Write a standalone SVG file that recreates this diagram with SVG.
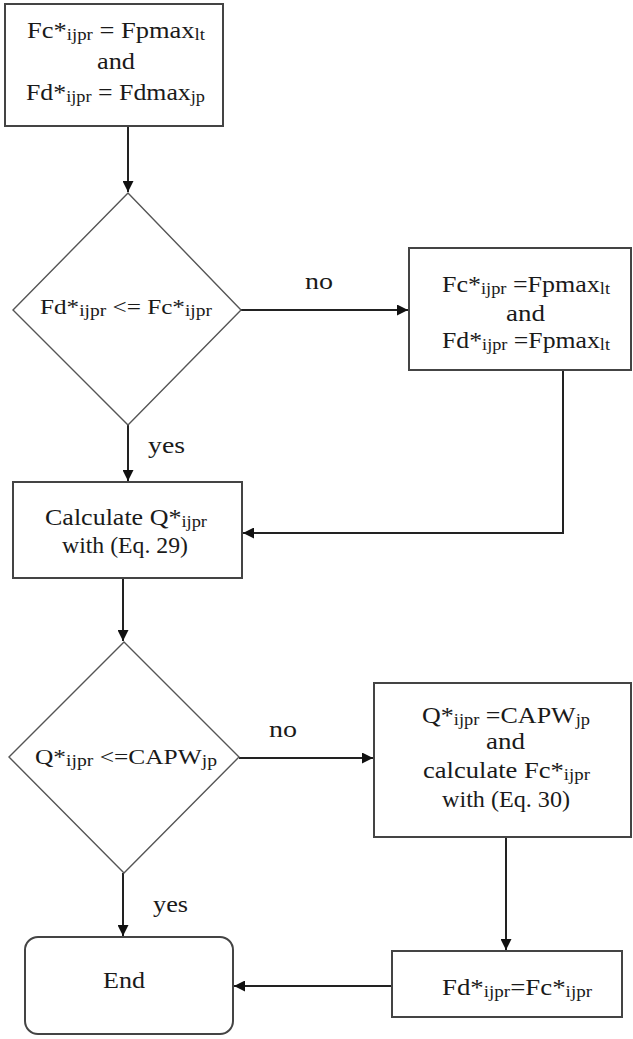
<svg xmlns="http://www.w3.org/2000/svg" width="633" height="1039" viewBox="0 0 633 1039">
<style>
text{font-family:'Liberation Serif','Times New Roman','DejaVu Serif',serif;font-size:24px;fill:#1a1a1a}
.d{font-size:22px}
.sub{font-size:17px}
.box{fill:#fff;stroke:#444;stroke-width:2}
.dia{fill:#fff;stroke:#555;stroke-width:1.4}
.con{fill:none;stroke:#222;stroke-width:2}
</style>
<defs>
<marker id="arr" viewBox="0 0 10 10" refX="10" refY="5" markerWidth="5.5" markerHeight="5.5" orient="auto" markerUnits="strokeWidth">
<path d="M0,0 L10,5 L0,10 z" fill="#111"/>
</marker>
</defs>
<rect width="633" height="1039" fill="#fff"/>
<g id="connectors">
<path class="con" d="M128,126 V192" marker-end="url(#arr)"/>
<path class="con" d="M241,310 H408" marker-end="url(#arr)"/>
<path class="con" d="M128,425 V481" marker-end="url(#arr)"/>
<path class="con" d="M563,370 V533 H243" marker-end="url(#arr)"/>
<path class="con" d="M123,578 V641" marker-end="url(#arr)"/>
<path class="con" d="M239,758 H373" marker-end="url(#arr)"/>
<path class="con" d="M123,873 V936" marker-end="url(#arr)"/>
<path class="con" d="M506,837 V950" marker-end="url(#arr)"/>
<path class="con" d="M392,986 H234" marker-end="url(#arr)"/>
<text x="305" y="289" textLength="28" lengthAdjust="spacingAndGlyphs">no</text>
<text x="148" y="453" textLength="37" lengthAdjust="spacingAndGlyphs">yes</text>
<text x="269" y="737" textLength="28" lengthAdjust="spacingAndGlyphs">no</text>
<text x="153" y="912" textLength="35" lengthAdjust="spacingAndGlyphs">yes</text>
</g>
<g id="start">
<rect class="box" x="5" y="4" width="218" height="122"/>
<text x="27" y="38" textLength="178" lengthAdjust="spacingAndGlyphs">Fc*<tspan class="sub" dy="2">ijpr</tspan><tspan dy="-2"> = Fpmax</tspan><tspan class="sub" dy="2">lt</tspan></text>
<text x="97" y="69" textLength="38" lengthAdjust="spacingAndGlyphs">and</text>
<text x="26" y="100" textLength="179" lengthAdjust="spacingAndGlyphs">Fd*<tspan class="sub" dy="2">ijpr</tspan><tspan dy="-2"> = Fdmax</tspan><tspan class="sub" dy="2">jp</tspan></text>
</g>
<g id="decision1">
<polygon class="dia" points="128,193 241,310 128,425 13,310"/>
<text class="d" x="40" y="314" textLength="172" lengthAdjust="spacingAndGlyphs">Fd*<tspan class="sub" dy="2">ijpr</tspan><tspan dy="-2"> &lt;= Fc*</tspan><tspan class="sub" dy="2">ijpr</tspan></text>
</g>
<g id="setmax">
<rect class="box" x="409" y="248" width="222" height="122"/>
<text x="442" y="292" textLength="168" lengthAdjust="spacingAndGlyphs">Fc*<tspan class="sub" dy="2">ijpr</tspan><tspan dy="-2"> =Fpmax</tspan><tspan class="sub" dy="2">lt</tspan></text>
<text x="506" y="321" textLength="39" lengthAdjust="spacingAndGlyphs">and</text>
<text x="442" y="348" textLength="168" lengthAdjust="spacingAndGlyphs">Fd*<tspan class="sub" dy="2">ijpr</tspan><tspan dy="-2"> =Fpmax</tspan><tspan class="sub" dy="2">lt</tspan></text>
</g>
<g id="calcQ">
<rect class="box" x="13" y="482" width="229" height="96"/>
<text x="45" y="525" textLength="162" lengthAdjust="spacingAndGlyphs">Calculate Q*<tspan class="sub" dy="2">ijpr</tspan></text>
<text x="62" y="553" textLength="126" lengthAdjust="spacingAndGlyphs">with (Eq. 29)</text>
</g>
<g id="decision2">
<polygon class="dia" points="124,642 239,757 124,873 9,757"/>
<text class="d" x="35" y="764" textLength="182" lengthAdjust="spacingAndGlyphs">Q*<tspan class="sub" dy="2">ijpr</tspan><tspan dy="-2"> &lt;=CAPW</tspan><tspan class="sub" dy="2">jp</tspan></text>
</g>
<g id="setcap">
<rect class="box" x="374" y="683" width="257" height="154"/>
<text x="422" y="723" textLength="168" lengthAdjust="spacingAndGlyphs">Q*<tspan class="sub" dy="2">ijpr</tspan><tspan dy="-2"> =CAPW</tspan><tspan class="sub" dy="2">jp</tspan></text>
<text x="486" y="749" textLength="39" lengthAdjust="spacingAndGlyphs">and</text>
<text x="423" y="778" textLength="167" lengthAdjust="spacingAndGlyphs">calculate Fc*<tspan class="sub" dy="2">ijpr</tspan></text>
<text x="442" y="807" textLength="128" lengthAdjust="spacingAndGlyphs">with (Eq. 30)</text>
</g>
<g id="setfd">
<rect class="box" x="392" y="951" width="230" height="66"/>
<text x="442" y="995" textLength="150" lengthAdjust="spacingAndGlyphs">Fd*<tspan class="sub" dy="2">ijpr</tspan><tspan dy="-2">=Fc*</tspan><tspan class="sub" dy="2">ijpr</tspan></text>
</g>
<g id="end">
<rect class="box" x="25" y="937" width="208" height="97" rx="13" ry="13"/>
<text x="103" y="988" textLength="42" lengthAdjust="spacingAndGlyphs">End</text>
</g>
</svg>
